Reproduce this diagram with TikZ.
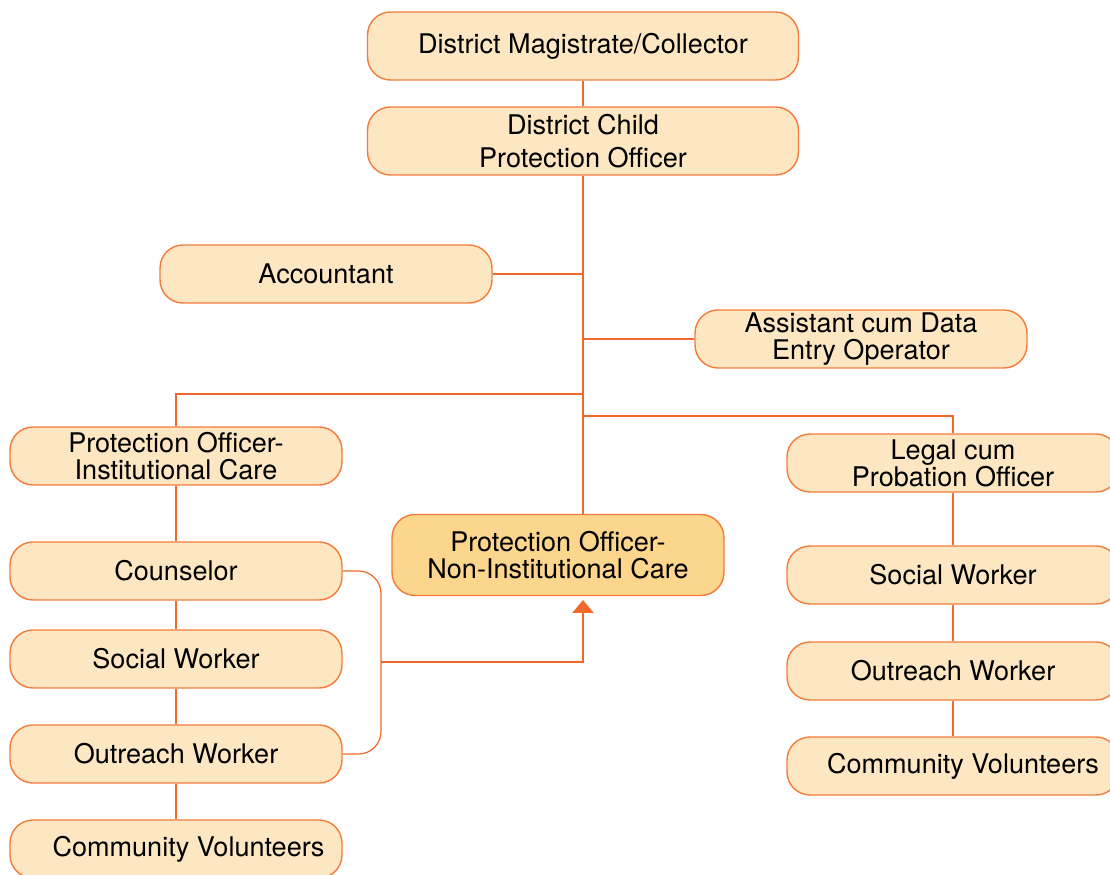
\documentclass[tikz,border=0pt]{standalone}
\usepackage{fontspec}
\setmainfont{TeX Gyre Heros}
\usetikzlibrary{arrows.meta}
\definecolor{boxfill}{HTML}{FDE7C3}
\definecolor{nicfill}{HTML}{FDD68E}
\definecolor{boxline}{HTML}{F47B3B}
\definecolor{linkcol}{HTML}{F26A2A}
\begin{document}
\begin{tikzpicture}[x=0.02cm,y=-0.02cm,
  post/.style={draw=boxline,fill=boxfill,line width=0.8pt,rounded corners=0.46cm,minimum width=6.64cm,minimum height=1.16cm,align=center,inner sep=0pt,font=\fontsize{15.4}{15.3}\selectfont},
  wide/.style={post,minimum width=8.62cm,minimum height=1.36cm},
  link/.style={draw=linkcol,line width=1.6pt},
  thinlink/.style={draw=linkcol,line width=0.7pt,rounded corners=0.45cm}]
\useasboundingbox (0,0) rectangle (1110,875);
% top of the chart
\node[wide] (dm) at (583,46) {District Magistrate/Collector};
\node[wide] (dcpo) at (583,141) {District Child\\[3.4pt]Protection Officer};
\node[post] (acc) at (326,274) {Accountant};
\node[post] (asst) at (861,339) {Assistant cum Data\\Entry Operator};
\node[post] (poic) at (176,456) {Protection Officer-\\Institutional Care};
\node[post] (legal) at (953,463) {Legal cum\\Probation Officer};
\node[post,fill=nicfill,minimum height=1.62cm] (nic) at (558,555) {Protection Officer-\\Non-Institutional Care};
% left column
\node[post] (couns) at (176,571) {Counselor};
\node[post] (swl) at (176,659) {Social Worker};
\node[post] (owl) at (176,754) {Outreach Worker};
\node[post] (cvl) at (176,849) {\hspace{0.5cm}Community Volunteers};
% right column
\node[post] (swr) at (953,575) {Social Worker};
\node[post] (owr) at (953,671) {Outreach Worker};
\node[post] (cvr) at (953,766) {\hspace{0.4cm}Community Volunteers};
\coordinate (icjoin) at (583,394);
\coordinate (lgjoin) at (583,416);
\coordinate (brk) at (381,662);
\coordinate (tip) at (583,600);
% connectors
\draw[link] (dm) -- (dcpo);
\draw[link] (dcpo.south) -- (dcpo.south |- nic.north);
\draw[link] (acc.east) -- (acc.east -| dcpo.south);
\draw[link] (asst.west) -- (asst.west -| dcpo.south);
\draw[link] (icjoin) -| (poic.north);
\draw[link] (lgjoin) -| (legal.north);
\foreach \a/\b in {poic/couns,couns/swl,swl/owl,owl/cvl,legal/swr,swr/owr,owr/cvr}
  \draw[link] (\a.south) -- (\b.north);
\draw[thinlink] (couns.east) -| (brk) |- (owl.east);
\draw[link,-{Triangle[width=0.42cm,length=0.26cm]}] (brk) -| (tip);
\end{tikzpicture}
\end{document}
